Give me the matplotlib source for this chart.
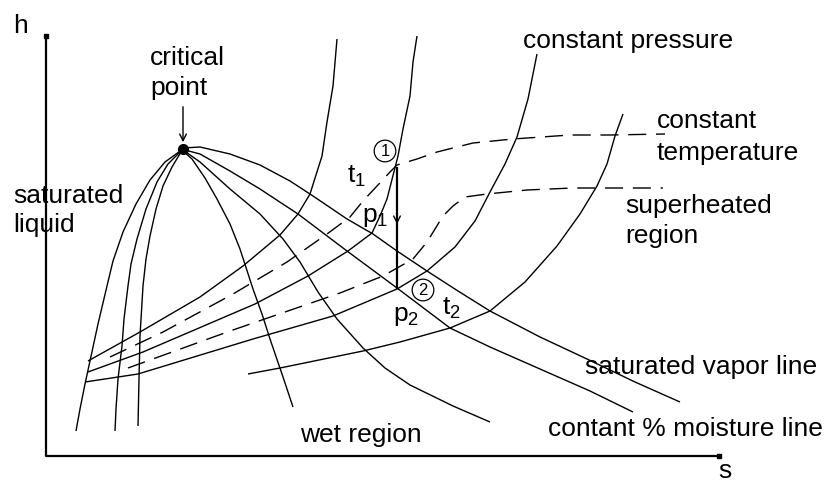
import matplotlib as mpl
import matplotlib.pyplot as plt

# sketch coordinates in pixels (x right, y down)
crit_pt = (183, 150)

sat_liquid_x = [183, 165, 150, 136, 123, 113, 107, 98, 90, 85, 80, 76]
sat_liquid_y = [150, 163, 181, 205, 233, 262, 287, 325, 362, 385, 410, 432]
liq_line1_x = [181, 168, 157, 146, 137, 131, 128, 124, 122, 118, 116, 115]
liq_line1_y = [152, 165, 183, 210, 240, 265, 287, 320, 347, 380, 410, 432]
liq_line2_x = [181, 172, 163, 156, 150, 146, 143, 140, 139, 138]
liq_line2_y = [153, 168, 187, 210, 237, 260, 287, 337, 380, 427]

sat_vapor_x = [183, 200, 230, 260, 290, 313, 347, 373, 397, 427, 458, 490, 540, 587, 635, 680]
sat_vapor_y = [149, 148, 155, 166, 182, 197, 220, 235, 252, 272, 292, 312, 338, 360, 383, 403]
moist1_x = [185, 200, 230, 260, 298, 347, 397, 450, 490, 540, 590, 633]
moist1_y = [151, 155, 172, 190, 215, 252, 289, 329, 348, 370, 392, 413]
moist2_x = [183, 200, 230, 260, 283, 300, 318, 337, 363, 385, 410, 453, 490]
moist2_y = [151, 163, 190, 215, 240, 263, 293, 320, 349, 369, 386, 407, 423]
moist3_x = [183, 192, 205, 217, 230, 240, 253, 262, 270, 282, 293]
moist3_y = [152, 160, 179, 200, 225, 250, 290, 315, 340, 375, 408]

# constant pressure lines
pa_x = [88, 140, 200, 243, 280, 298, 310, 322, 327, 333, 337]
pa_y = [362, 333, 298, 267, 236, 215, 195, 157, 123, 87, 40]
p1_x = [88, 143, 220, 255, 308, 348, 372, 380, 387, 398, 403, 410, 413, 417]
p1_y = [373, 353, 320, 305, 277, 252, 234, 217, 200, 157, 130, 97, 63, 37]
p2_x = [85, 138, 253, 333, 397, 427, 455, 475, 490, 505, 517, 528, 537]
p2_y = [383, 375, 340, 317, 290, 272, 248, 222, 193, 165, 138, 100, 55]
plow_x = [248, 280, 363, 400, 450, 490, 525, 557, 580, 597, 607, 615, 623]
plow_y = [375, 369, 352, 343, 329, 312, 283, 247, 215, 187, 165, 137, 115]

# constant temperature lines
t1_x = [110, 163, 233, 287, 327, 350, 363, 377, 390, 397, 417, 437, 473, 513, 570, 610, 665]
t1_y = [358, 333, 295, 263, 235, 218, 202, 187, 173, 166, 160, 153, 144, 140, 136, 136, 135]
t2_x = [128, 230, 340, 383, 413, 427, 443, 453, 465, 487, 527, 573, 663]
t2_y = [369, 332, 294, 277, 260, 243, 217, 207, 198, 195, 191, 189, 189]

# expansion 1 -> 2
proc_x = [397, 397]
proc_y = [168, 290]

# axes of the sketch
axis_x = [46, 46, 719]
axis_y = [37, 457, 457]

rc = {
    'font.family': ['Liberation Sans', 'DejaVu Sans'],
    'font.size': 19,
    'mathtext.default': 'regular',
    'lines.linewidth': 1.0,
    'lines.solid_capstyle': 'butt',
}


def draw(save_as='out.png'):
    with mpl.rc_context(rc=rc):
        fig = plt.figure(figsize=(8.27, 4.85), dpi=100)
        ax = fig.add_axes([0, 0, 1, 1])
        ax.set_xlim(0, 827)
        ax.set_ylim(485, 0)
        ax.axis('off')

        ax.plot(axis_x, axis_y, color='black', lw=1.6)
        ax.plot([axis_x[0], axis_x[-1]], [axis_y[0], axis_y[-1]], 's',
                color='black', ms=3)

        solid = [(sat_liquid_x, sat_liquid_y), (liq_line1_x, liq_line1_y),
                 (liq_line2_x, liq_line2_y), (sat_vapor_x, sat_vapor_y),
                 (moist1_x, moist1_y), (moist2_x, moist2_y),
                 (moist3_x, moist3_y), (pa_x, pa_y), (p1_x, p1_y),
                 (p2_x, p2_y), (plow_x, plow_y)]
        for xs, ys in solid:
            ax.plot(xs, ys, color='black')
        for xs, ys in [(t1_x, t1_y), (t2_x, t2_y)]:
            ax.plot(xs, ys, color='black', dashes=(13, 7))

        ax.plot(*crit_pt, 'o', color='black', ms=7)
        ax.annotate('', xy=(crit_pt[0], crit_pt[1] - 4), xytext=(crit_pt[0], 105),
                    arrowprops=dict(arrowstyle='->', lw=1, mutation_scale=12))

        ax.plot(proc_x, proc_y, color='black', lw=1.6)
        ax.annotate('', xy=(397, 228), xytext=(397, 212),
                    arrowprops=dict(arrowstyle='->', lw=1, mutation_scale=12))

        circ = dict(boxstyle='circle,pad=0.2', fc='none', ec='black', lw=0.9)
        ax.text(385, 152, '1', ha='center', va='center', fontsize=12, bbox=circ)
        ax.text(423, 291, '2', ha='center', va='center', fontsize=12, bbox=circ)

        labels = [
            (13, 33, 'h'), (150, 65, 'critical'), (150, 95, 'point'),
            (13, 203, 'saturated'), (13, 232, 'liquid'),
            (523, 48, 'constant pressure'),
            (657, 128, 'constant'), (657, 160, 'temperature'),
            (625, 213, 'superheated'), (625, 243, 'region'),
            (347, 183, r'$t_1$'), (362, 222, r'$p_1$'),
            (442, 315, r'$t_2$'), (393, 321, r'$p_2$'),
            (300, 442, 'wet region'),
            (585, 374, 'saturated vapor line'),
            (548, 436, 'contant % moisture line'),
            (718, 478, 's'),
        ]
        for x, y, s in labels:
            ax.text(x, y, s, ha='left', va='baseline')

        fig.savefig(save_as, dpi=100, facecolor='white')


if __name__ == '__main__':
    draw()
